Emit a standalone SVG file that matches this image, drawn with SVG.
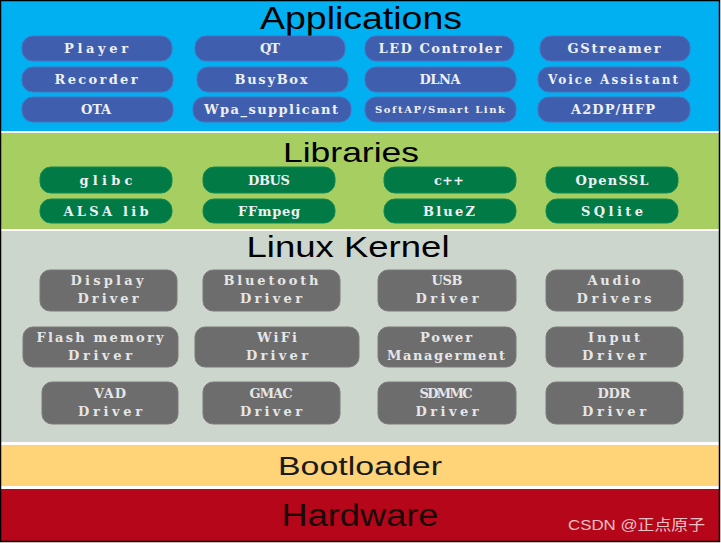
<svg xmlns="http://www.w3.org/2000/svg" width="721" height="543" viewBox="0 0 721 543">
<style>
.title{font-family:"Liberation Sans",Arial,sans-serif;fill:#000;text-anchor:middle}
.app rect{fill:#3f5fae;stroke:#4f6fc0;stroke-width:1}
.lib rect{fill:#017a46;stroke:#0f8a52;stroke-width:1}
.krn rect{fill:#6d6d6d;stroke:#7a7a7a;stroke-width:1}
.lbl{font-family:"DejaVu Serif","Liberation Serif",serif;font-weight:bold;font-size:13px;fill:#eef0f4;text-anchor:middle}
.krn .lbl{fill:#e6e6e6}
</style>
<rect x="0" y="0" width="721" height="543" fill="#ffffff"/>
<g id="bands">
<rect x="1" y="1" width="718" height="130" fill="#00b0f0"/>
<rect x="1" y="133" width="718" height="96" fill="#a6ce61"/>
<rect x="1" y="231" width="718" height="211" fill="#ccd6cc"/>
<rect x="1" y="445" width="718" height="41" fill="#ffd479"/>
<rect x="1" y="489" width="718" height="52" fill="#b5061a"/>
<rect x="0.5" y="0.5" width="719" height="541" fill="none" stroke="#000" stroke-width="1.5"/>
</g>
<g id="titles">
<text class="title" x="361" y="29" font-size="31" textLength="202" lengthAdjust="spacingAndGlyphs">Applications</text>
<text class="title" x="351" y="162" font-size="28" textLength="136" lengthAdjust="spacingAndGlyphs">Libraries</text>
<text class="title" x="348" y="257" font-size="30" textLength="203" lengthAdjust="spacingAndGlyphs">Linux Kernel</text>
<text class="title" x="360" y="475" font-size="26" textLength="164" lengthAdjust="spacingAndGlyphs" style="fill:#1a1a1a">Bootloader</text>
<text class="title" x="360" y="526" font-size="31" textLength="157" lengthAdjust="spacingAndGlyphs" style="fill:#1a0a0a">Hardware</text>
</g>
<g id="applications">
<g id="app-player" class="app"><rect x="22" y="36" width="150" height="25" rx="11"/><text class="lbl" x="96" y="53" textLength="64">Player</text></g>
<g id="app-qt" class="app"><rect x="195" y="36" width="150" height="25" rx="11"/><text class="lbl" x="270" y="53" textLength="20">QT</text></g>
<g id="app-led" class="app"><rect x="365" y="36" width="149" height="25" rx="11"/><text class="lbl" x="440" y="53" textLength="123">LED Controler</text></g>
<g id="app-gstreamer" class="app"><rect x="540" y="36" width="150" height="25" rx="11"/><text class="lbl" x="614" y="53" textLength="93">GStreamer</text></g>
<g id="app-recorder" class="app"><rect x="22" y="67" width="151" height="25" rx="11"/><text class="lbl" x="96" y="84" textLength="83">Recorder</text></g>
<g id="app-busybox" class="app"><rect x="197" y="67" width="151" height="25" rx="11"/><text class="lbl" x="271" y="84" textLength="73">BusyBox</text></g>
<g id="app-dlna" class="app"><rect x="365" y="67" width="151" height="25" rx="11"/><text class="lbl" x="440" y="84" textLength="41">DLNA</text></g>
<g id="app-voice" class="app"><rect x="538" y="67" width="152" height="25" rx="11"/><text class="lbl" x="613" y="84" textLength="130" style="font-size:12px">Voice Assistant</text></g>
<g id="app-ota" class="app"><rect x="22" y="97" width="151" height="25" rx="11"/><text class="lbl" x="96" y="114" textLength="30">OTA</text></g>
<g id="app-wpa" class="app"><rect x="193" y="97" width="158" height="25" rx="11"/><text class="lbl" x="271" y="114" textLength="134">Wpa_supplicant</text></g>
<g id="app-softap" class="app"><rect x="365" y="97" width="151" height="25" rx="11"/><text class="lbl" x="440" y="113" textLength="130" style="font-size:10px">SoftAP/Smart Link</text></g>
<g id="app-a2dp" class="app"><rect x="538" y="97" width="152" height="25" rx="11"/><text class="lbl" x="613" y="114" textLength="84">A2DP/HFP</text></g>
</g>
<g id="libraries">
<g id="lib-glibc" class="lib"><rect x="40" y="167" width="132" height="26" rx="11"/><text class="lbl" x="106" y="185" textLength="53">glibc</text></g>
<g id="lib-dbus" class="lib"><rect x="203" y="167" width="132" height="26" rx="11"/><text class="lbl" x="269" y="185" textLength="42">DBUS</text></g>
<g id="lib-cpp" class="lib"><rect x="384" y="167" width="132" height="26" rx="11"/><text class="lbl" x="449" y="185" textLength="30">c++</text></g>
<g id="lib-openssl" class="lib"><rect x="546" y="167" width="132" height="26" rx="11"/><text class="lbl" x="612" y="185" textLength="73">OpenSSL</text></g>
<g id="lib-alsa" class="lib"><rect x="40" y="199" width="132" height="24" rx="11"/><text class="lbl" x="106" y="216" textLength="85">ALSA lib</text></g>
<g id="lib-ffmpeg" class="lib"><rect x="203" y="199" width="132" height="24" rx="11"/><text class="lbl" x="269" y="216" textLength="62">FFmpeg</text></g>
<g id="lib-bluez" class="lib"><rect x="384" y="199" width="132" height="24" rx="11"/><text class="lbl" x="449" y="216" textLength="52">BlueZ</text></g>
<g id="lib-sqlite" class="lib"><rect x="546" y="199" width="132" height="24" rx="11"/><text class="lbl" x="612" y="216" textLength="62">SQlite</text></g>
</g>
<g id="kernel">
<g id="k-display" class="krn"><rect x="40" y="270" width="137" height="41" rx="10"/><text class="lbl" x="107" y="285" textLength="73">Display</text><text class="lbl" x="108" y="303" textLength="61">Driver</text></g>
<g id="k-bluetooth" class="krn"><rect x="203" y="270" width="137" height="41" rx="10"/><text class="lbl" x="271" y="285" textLength="95">Bluetooth</text><text class="lbl" x="271" y="303" textLength="62">Driver</text></g>
<g id="k-usb" class="krn"><rect x="378" y="270" width="138" height="41" rx="10"/><text class="lbl" x="447" y="285" textLength="31">USB</text><text class="lbl" x="447" y="303" textLength="63">Driver</text></g>
<g id="k-audio" class="krn"><rect x="546" y="270" width="137" height="41" rx="10"/><text class="lbl" x="614" y="285" textLength="53">Audio</text><text class="lbl" x="614" y="303" textLength="75">Drivers</text></g>
<g id="k-flash" class="krn"><rect x="23" y="327" width="155" height="40" rx="10"/><text class="lbl" x="100" y="342" textLength="127">Flash memory</text><text class="lbl" x="100" y="360" textLength="64">Driver</text></g>
<g id="k-wifi" class="krn"><rect x="195" y="327" width="164" height="40" rx="10"/><text class="lbl" x="277" y="342" textLength="40">WiFi</text><text class="lbl" x="277" y="360" textLength="62">Driver</text></g>
<g id="k-power" class="krn"><rect x="378" y="327" width="138" height="40" rx="10"/><text class="lbl" x="446" y="342" textLength="52">Power</text><text class="lbl" x="446" y="360" textLength="118">Managerment</text></g>
<g id="k-input" class="krn"><rect x="546" y="327" width="137" height="40" rx="10"/><text class="lbl" x="614" y="342" textLength="52">Input</text><text class="lbl" x="614" y="360" textLength="64">Driver</text></g>
<g id="k-vad" class="krn"><rect x="42" y="382" width="136" height="42" rx="10"/><text class="lbl" x="110" y="398" textLength="32">VAD</text><text class="lbl" x="110" y="416" textLength="64">Driver</text></g>
<g id="k-gmac" class="krn"><rect x="203" y="382" width="137" height="42" rx="10"/><text class="lbl" x="271" y="398" textLength="43">GMAC</text><text class="lbl" x="271" y="416" textLength="62">Driver</text></g>
<g id="k-sdmmc" class="krn"><rect x="378" y="382" width="138" height="42" rx="10"/><text class="lbl" x="446" y="398" textLength="53">SDMMC</text><text class="lbl" x="447" y="416" textLength="63">Driver</text></g>
<g id="k-ddr" class="krn"><rect x="546" y="382" width="137" height="42" rx="10"/><text class="lbl" x="614" y="398" textLength="33">DDR</text><text class="lbl" x="614" y="416" textLength="64">Driver</text></g>
</g>
<g id="connectors"></g>
<text x="568" y="530" font-family="'Liberation Sans','Noto Sans CJK SC',sans-serif" font-size="15" fill="#ffffff" fill-opacity="0.75" textLength="137" lengthAdjust="spacingAndGlyphs">CSDN @正点原子</text>
</svg>
